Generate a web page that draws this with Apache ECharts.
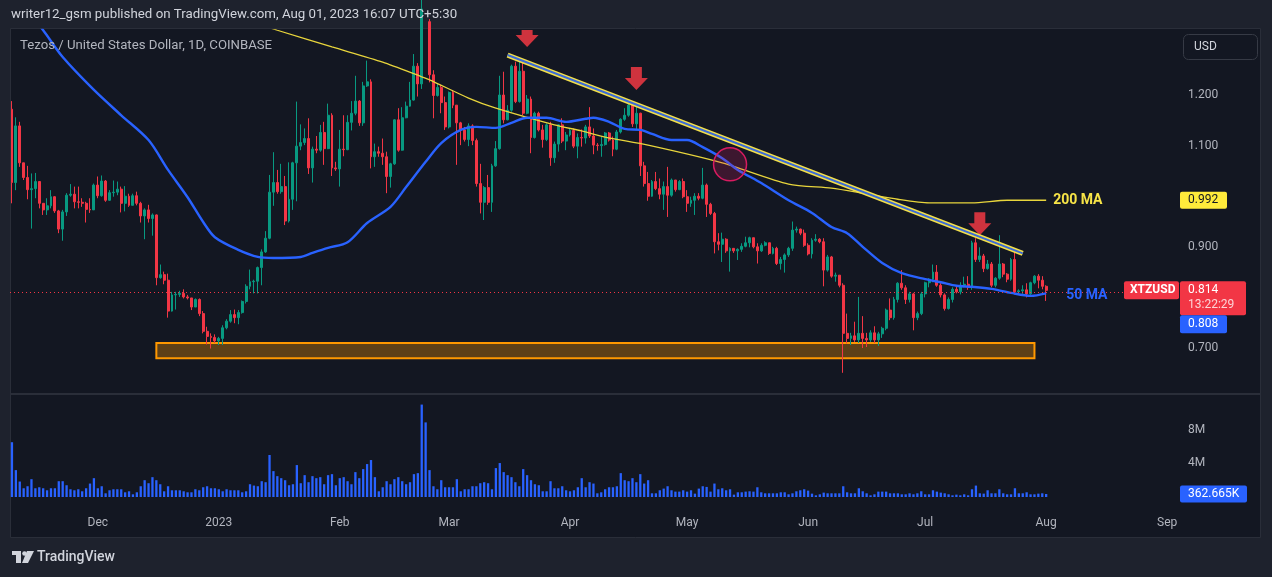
<!DOCTYPE html>
<html><head><meta charset="utf-8">
<script src="https://cdn.jsdelivr.net/npm/echarts@6/dist/echarts.min.js"></script>
<style>html,body{margin:0;padding:0;background:#1e222d;}#c{width:1272px;height:577px;}</style>
</head><body><div id="c"></div>
<script>
// ---- data ----
const startDate = '2022-11-09';
const dayCount = 298; // visible span incl. empty right margin up to early Sep
const monthTicks = {'2022-12-01':'Dec','2023-01-01':'2023','2023-02-01':'Feb','2023-03-01':'Mar','2023-04-01':'Apr','2023-05-01':'May','2023-06-01':'Jun','2023-07-01':'Jul','2023-08-01':'Aug','2023-09-01':'Sep'};
const priceTicks = [0.7, 0.9, 1.1, 1.2];
const volumeTicks = [4e6, 8e6];
const firstOpen = 1.172;
const closes = [
1.027,1.139,1.066,1.037,1.013,1.015,1.029,0.986,0.973,0.981,
0.999,0.971,0.935,0.969,1.002,1.004,0.989,0.988,0.986,0.974,
0.973,1.022,1.001,1.030,0.992,1.007,1.008,1.014,0.986,1.000,
0.982,1.001,0.986,0.961,0.973,0.956,0.963,0.839,0.845,0.834,
0.773,0.805,0.806,0.808,0.801,0.799,0.781,0.796,0.768,0.733,
0.723,0.721,0.714,0.719,0.740,0.753,0.766,0.760,0.770,0.792,
0.822,0.831,0.832,0.859,0.890,0.917,1.008,1.027,1.009,1.019,
0.951,0.994,1.066,1.099,1.106,1.114,1.056,1.093,1.091,1.126,
1.094,1.160,1.056,1.054,1.093,1.092,1.146,1.164,1.188,1.145,
1.218,1.226,1.078,1.088,1.085,1.078,1.039,1.064,1.151,1.091,
1.155,1.178,1.190,1.257,1.222,1.370,1.345,1.240,1.199,1.215,
1.185,1.137,1.205,1.180,1.145,1.131,1.112,1.139,1.110,1.025,
0.988,1.017,0.988,1.060,1.094,1.200,1.151,1.170,1.257,1.187,
1.247,1.164,1.192,1.116,1.164,1.131,1.112,1.141,1.076,1.103,
1.141,1.109,1.121,1.130,1.099,1.116,1.115,1.137,1.119,1.101,
1.100,1.102,1.125,1.111,1.093,1.127,1.152,1.160,1.180,1.143,
1.164,1.060,1.025,1.000,1.029,1.015,1.004,1.019,1.002,1.032,
1.013,1.029,0.999,0.986,0.992,1.000,0.996,1.022,0.984,0.966,
0.910,0.905,0.915,0.892,0.897,0.892,0.895,0.901,0.908,0.918,
0.900,0.892,0.903,0.908,0.887,0.897,0.867,0.875,0.884,0.897,
0.933,0.935,0.927,0.903,0.886,0.913,0.915,0.910,0.854,0.880,
0.842,0.844,0.824,0.729,0.719,0.724,0.716,0.729,0.719,0.716,
0.730,0.716,0.728,0.739,0.775,0.760,0.796,0.828,0.819,0.796,
0.807,0.760,0.768,0.807,0.829,0.836,0.850,0.824,0.805,0.778,
0.796,0.816,0.811,0.824,0.826,0.820,0.908,0.875,0.882,0.857,
0.866,0.824,0.838,0.866,0.846,0.836,0.875,0.811,0.813,0.815,
0.807,0.829,0.842,0.834,0.822,0.814];
const highs = [
1.188,1.156,1.147,1.061,1.060,1.045,1.046,1.025,0.983,0.996,
1.012,1.000,0.973,0.973,1.006,1.024,1.019,1.019,0.996,0.989,
0.996,1.025,1.039,1.041,1.032,1.012,1.031,1.029,1.019,1.020,
1.005,1.005,1.009,0.989,0.976,0.983,0.966,0.964,0.865,0.851,
0.847,0.811,0.811,0.813,0.816,0.805,0.799,0.798,0.798,0.773,
0.742,0.729,0.727,0.722,0.745,0.757,0.775,0.776,0.775,0.794,
0.826,0.855,0.835,0.861,0.895,0.931,1.042,1.087,1.052,1.064,
1.040,1.067,1.068,1.187,1.142,1.134,1.154,1.098,1.119,1.141,
1.147,1.183,1.164,1.068,1.131,1.160,1.160,1.188,1.238,1.190,
1.226,1.268,1.231,1.104,1.098,1.114,1.088,1.066,1.152,1.174,
1.176,1.187,1.226,1.281,1.263,1.400,1.420,1.350,1.249,1.223,
1.220,1.197,1.207,1.210,1.180,1.147,1.137,1.144,1.142,1.114,
1.064,1.020,1.042,1.064,1.109,1.238,1.246,1.180,1.260,1.266,
1.269,1.270,1.200,1.197,1.167,1.167,1.141,1.144,1.147,1.108,
1.142,1.154,1.127,1.134,1.134,1.124,1.132,1.141,1.176,1.134,
1.105,1.118,1.127,1.127,1.118,1.131,1.154,1.174,1.190,1.187,
1.178,1.165,1.068,1.048,1.032,1.048,1.035,1.029,1.058,1.035,
1.032,1.032,1.035,1.012,0.999,1.006,1.006,1.056,1.025,0.987,
0.969,0.927,0.928,0.917,0.899,0.897,0.897,0.907,0.920,0.920,
0.917,0.907,0.907,0.911,0.907,0.900,0.900,0.880,0.887,0.900,
0.950,0.940,0.936,0.934,0.907,0.917,0.925,0.917,0.917,0.884,
0.882,0.849,0.844,0.828,0.768,0.730,0.752,0.801,0.763,0.730,
0.735,0.743,0.732,0.742,0.778,0.798,0.801,0.830,0.854,0.824,
0.811,0.809,0.772,0.811,0.831,0.838,0.865,0.864,0.828,0.808,
0.800,0.820,0.824,0.830,0.841,0.842,0.912,0.917,0.899,0.886,
0.874,0.870,0.840,0.923,0.868,0.848,0.878,0.894,0.816,0.824,
0.828,0.831,0.844,0.846,0.842,0.824];
const lows = [
0.986,1.012,1.058,1.032,0.994,0.936,0.996,0.976,0.963,0.963,
0.976,0.967,0.927,0.912,0.961,0.999,0.976,0.976,0.979,0.948,
0.967,0.973,0.996,0.999,0.989,0.991,0.999,1.002,0.968,0.970,
0.979,0.982,0.982,0.948,0.915,0.948,0.922,0.824,0.837,0.826,
0.760,0.772,0.776,0.801,0.798,0.796,0.775,0.781,0.763,0.729,
0.707,0.699,0.710,0.706,0.706,0.737,0.750,0.749,0.747,0.768,
0.788,0.816,0.808,0.808,0.824,0.888,0.915,0.981,1.005,1.005,
0.943,0.948,0.973,0.990,1.091,1.101,1.044,1.027,1.085,1.088,
1.062,1.093,1.040,1.050,1.019,1.079,1.091,1.130,1.160,1.139,
1.139,1.216,1.055,1.058,1.078,1.062,1.006,1.017,1.062,1.088,
1.090,1.154,1.177,1.189,1.197,1.212,1.340,1.225,1.154,1.197,
1.164,1.131,1.134,1.174,1.062,1.101,1.108,1.099,1.101,1.019,
0.966,0.953,0.983,0.969,1.058,1.092,1.144,1.150,1.167,1.184,
1.185,1.160,1.162,1.085,1.114,1.128,1.096,1.109,1.060,1.066,
1.088,1.105,1.091,1.118,1.095,1.075,1.098,1.104,1.115,1.083,
1.090,1.078,1.100,1.108,1.079,1.091,1.124,1.149,1.157,1.137,
1.132,1.040,1.019,0.991,0.999,1.012,0.994,0.973,0.959,0.999,
1.009,1.012,0.996,0.969,0.979,0.963,0.992,0.994,0.959,0.963,
0.887,0.893,0.870,0.888,0.851,0.888,0.874,0.890,0.899,0.899,
0.897,0.867,0.890,0.901,0.884,0.885,0.864,0.855,0.849,0.880,
0.892,0.928,0.923,0.900,0.883,0.877,0.910,0.907,0.822,0.851,
0.839,0.831,0.820,0.651,0.709,0.706,0.712,0.710,0.700,0.702,
0.712,0.710,0.704,0.720,0.735,0.755,0.756,0.790,0.815,0.787,
0.790,0.735,0.755,0.765,0.800,0.820,0.830,0.821,0.800,0.774,
0.776,0.790,0.808,0.806,0.820,0.815,0.815,0.870,0.870,0.850,
0.855,0.820,0.820,0.835,0.840,0.830,0.833,0.806,0.808,0.807,
0.800,0.805,0.826,0.818,0.816,0.793];
// daily volume, millions
const volumesM = [
6.52,3.2,1.84,1.04,1.28,2.12,1.04,1.16,1.04,0.8,
1.04,1.04,1.88,1.88,1.4,0.92,0.8,0.92,0.68,1.04,
1.6,2.24,1.04,1.28,0.44,0.8,0.92,0.92,0.92,0.56,
0.68,0.32,0.56,1.28,2.0,1.64,2.36,2.0,1.52,0.68,
1.28,0.8,0.8,0.8,0.68,0.56,0.56,0.92,0.8,1.16,
1.28,1.04,1.04,0.92,0.68,0.92,0.8,0.8,0.8,0.56,
0.68,1.52,1.36,1.28,1.88,1.76,5.0,3.08,2.48,2.24,
2.0,1.4,1.52,3.8,1.64,2.6,1.76,2.48,2.24,2.36,
1.52,2.6,2.72,1.4,2.24,2.36,1.88,1.52,2.96,2.24,
3.32,3.92,4.4,2.36,0.68,1.16,1.88,1.52,2.12,2.36,
1.88,1.52,1.76,2.72,2.84,11.0,8.88,3.2,1.28,0.92,
2.0,1.16,1.16,1.16,2.12,0.68,0.92,0.92,1.28,1.28,
1.64,1.76,1.64,0.92,3.44,4.04,2.96,2.6,2.36,1.76,
1.28,3.32,2.6,2.0,1.52,1.4,0.68,0.68,1.88,1.04,
1.04,1.28,0.8,0.68,0.8,1.16,2.24,1.16,1.76,1.6,
0.44,0.56,0.92,1.16,1.16,1.28,2.84,2.0,1.88,2.24,
1.76,2.72,1.6,2.0,0.44,0.44,0.8,1.0,1.28,0.8,
0.64,0.64,0.8,0.64,0.8,0.4,1.0,1.28,1.2,0.64,
1.6,0.92,1.04,0.8,0.92,0.28,0.56,0.56,0.64,0.68,
0.64,1.16,0.56,0.44,0.44,0.44,0.44,0.56,0.56,0.32,
0.44,0.68,0.8,0.92,0.76,0.4,0.2,0.32,0.52,0.44,
0.44,0.44,0.44,1.28,0.56,0.44,0.44,1.04,0.68,0.44,
0.2,0.32,0.64,0.64,0.64,0.44,0.44,0.44,0.32,0.32,
0.44,0.32,0.44,0.68,0.32,0.32,0.8,0.64,0.52,0.44,
0.32,0.2,0.28,0.2,0.32,0.2,0.92,1.36,0.44,0.4,
0.8,0.44,0.44,0.92,0.44,0.32,0.32,1.04,0.44,0.44,
0.56,0.32,0.32,0.4,0.44,0.36];
// moving averages: [day index, value]
const ma50 = [[0,1.405],[8,1.328],[13,1.275],[21,1.21],[28,1.16],[35,1.111],[40,1.052],[45,0.998],[49,0.949],[52,0.919],[58,0.894],[63,0.88],[67,0.878],[74,0.88],[77,0.888],[81,0.898],[86,0.909],[91,0.947],[97,0.979],[101,1.018],[106,1.068],[110,1.105],[115,1.131],[119,1.137],[124,1.135],[128,1.145],[132,1.155],[137,1.155],[142,1.147],[147,1.153],[149,1.155],[153,1.147],[157,1.133],[161,1.131],[164,1.123],[169,1.111],[173,1.111],[177,1.097],[182,1.075],[186,1.052],[192,1.026],[199,0.992],[205,0.967],[210,0.939],[214,0.927],[218,0.9],[223,0.868],[228,0.848],[234,0.836],[238,0.83],[242,0.823],[246,0.821],[251,0.817],[256,0.809],[261,0.803],[265,0.808]];
const ma200 = [[62,1.343],[68,1.328],[82,1.295],[95,1.265],[105,1.236],[107,1.230],[117,1.194],[124,1.174],[139,1.141],[146,1.129],[152,1.117],[163,1.101],[182,1.066],[199,1.024],[210,1.016],[218,1.006],[227,0.994],[235,0.987],[246,0.987],[255,0.992],[265,0.992]];
const trendLine = [[127,1.279],[259,0.887]];
const supportZone = {from:37, to:262, top:0.710, bottom:0.680};
const arrowPoints = [[160,1.210],[248,0.923]];
const arrowTopCut = [132,1.295];
const circlePoint = [184,1.063];
const lastPrice = 0.814, lastMa50 = 0.808, lastMa200 = 0.992, lastVolume = 362665, countdown = '13:22:29';

// ---- build ----
const categories = [];
const t0 = Date.parse(startDate + 'T00:00:00Z');
for (let i = 0; i < dayCount; i++) categories.push(new Date(t0 + i * 86400000).toISOString().slice(0, 10));
const candleData = closes.map((c, i) => {
  const o = i === 0 ? firstOpen : closes[i - 1];
  return [o, c, Math.min(lows[i], o, c), Math.max(highs[i], o, c)];
});
const volData = volumesM.map(v => v * 1e6);

const FONT = 'Roboto, "Noto Sans", sans-serif';
const UP = '#089981', DOWN = '#f23645';
const ARROW = 'path://M6,0L17,0L17,11L23,11L11.5,23L0,11L6,11Z';
const ARROW_CUT = 'path://M6,0L17,0L17,5L23,5L11.5,17L0,5L6,5Z';

const chart = echarts.init(document.getElementById('c'), null, {renderer: 'canvas'});
const option = {
  animation: false,
  backgroundColor: '#1e222d',
  grid: [
    {left: 10, right: 99, top: 30, height: 363, outerBoundsMode: 'none'},
    {left: 10, right: 99, top: 395, height: 102, outerBoundsMode: 'none'}
  ],
  xAxis: [
    {type: 'category', gridIndex: 0, data: categories, boundaryGap: true, axisLine: {show: false}, axisTick: {show: false}, axisLabel: {show: false}, splitLine: {show: false}},
    {type: 'category', gridIndex: 1, data: categories, boundaryGap: true, axisLine: {show: false}, axisTick: {show: false}, splitLine: {show: false},
     axisLabel: {show: true, interval: (i, v) => !!monthTicks[v], formatter: v => monthTicks[v] || '', color: '#b2b5be', fontSize: 12, fontFamily: FONT, margin: 20}}
  ],
  yAxis: [
    {type: 'value', gridIndex: 0, position: 'right', min: 0.6111, max: 1.3285, splitLine: {show: false}, axisLine: {show: false}, axisTick: {show: false},
     axisLabel: {customValues: priceTicks, formatter: v => v.toFixed(3), color: '#b2b5be', fontSize: 12, fontFamily: FONT, margin: 15, align: 'left'}},
    {type: 'value', gridIndex: 1, position: 'right', min: 0, max: 12.14e6, splitLine: {show: false}, axisLine: {show: false}, axisTick: {show: false},
     axisLabel: {customValues: volumeTicks, formatter: v => (v / 1e6) + 'M', color: '#b2b5be', fontSize: 12, fontFamily: FONT, margin: 15, align: 'left'}}
  ],
  series: [
    {type: 'bar', xAxisIndex: 1, yAxisIndex: 1, data: volData, barWidth: 2.3, itemStyle: {color: '#2962ff'}, silent: true},
    {type: 'candlestick', xAxisIndex: 0, yAxisIndex: 0, data: candleData, barWidth: 2.4, clip: true, silent: true,
     itemStyle: {color: UP, color0: DOWN, borderColor: UP, borderColor0: DOWN, borderWidth: 1}},
    {type: 'line', xAxisIndex: 0, yAxisIndex: 0, data: ma200, showSymbol: false, smooth: 0.25, clip: true, silent: true, z: 3,
     lineStyle: {color: '#e8d53c', width: 1.3}},
    {type: 'line', xAxisIndex: 0, yAxisIndex: 0, data: ma50, showSymbol: false, smooth: 0.3, clip: true, silent: true, z: 4,
     lineStyle: {color: '#2962ff', width: 2.4}},
    {type: 'line', xAxisIndex: 0, yAxisIndex: 0, data: trendLine, showSymbol: false, silent: true, z: 5,
     lineStyle: {color: '#f2df4a', width: 5}},
    {type: 'line', xAxisIndex: 0, yAxisIndex: 0, data: trendLine, showSymbol: false, silent: true, z: 6,
     lineStyle: {color: '#3a6ad6', width: 2},
     markLine: {silent: true, symbol: 'none', label: {show: false}, animation: false,
       lineStyle: {color: '#f23645', type: [1, 3], width: 1}, data: [{yAxis: lastPrice}]},
     markArea: {silent: true, itemStyle: {color: 'rgba(255,152,0,0.32)', borderColor: '#ff9800', borderWidth: 2},
       data: [[{coord: [supportZone.from, supportZone.top]}, {coord: [supportZone.to, supportZone.bottom]}]]},
     markPoint: {silent: true, label: {show: false}, data: [
       {coord: circlePoint, symbol: 'circle', symbolSize: 33, itemStyle: {color: 'rgba(216,27,96,0.22)', borderColor: '#d81b60', borderWidth: 1.5}},
       {coord: arrowTopCut, symbol: ARROW_CUT, symbolSize: [23, 17], symbolOffset: [0, '-50%'], itemStyle: {color: '#cf333e'}},
       ...arrowPoints.map(p => ({coord: p, symbol: ARROW, symbolSize: [23, 23], symbolOffset: [0, '-50%'], itemStyle: {color: '#cf333e'}}))
     ]}}
  ]
};
chart.setOption(option);

// ---- overlay labels (positions from the chart's own scales) ----
const py = v => chart.convertToPixel({yAxisIndex: 0}, v);
const vy = v => chart.convertToPixel({yAxisIndex: 1}, v);
const px = i => chart.convertToPixel({xAxisIndex: 0}, i);
const AX = 1180;
const txt = (x, y, s, fill, size, weight, extra) => Object.assign({type: 'text', x, y, z: 100, silent: true,
  style: {text: s, fill, fontSize: size, fontFamily: FONT, fontWeight: weight || 'normal', verticalAlign: 'middle', align: 'left'}}, extra || {});
const rect = (x, y, w, h, fill, extra) => Object.assign({type: 'rect', z: 99, silent: true, shape: {x, y, width: w, height: h, r: 2}, style: {fill}}, extra || {});
const yLP = py(lastPrice), y200 = py(lastMa200), yV = vy(lastVolume);
const xEnd = px(265);
const g = [
  {type: 'rect', z: -10, silent: true, shape: {x: 10.5, y: 28.5, width: 1250, height: 509}, style: {fill: '#131722', stroke: '#2a2e39', lineWidth: 1}},
  {type: 'line', z: -9, silent: true, shape: {x1: 11, y1: 394, x2: 1260, y2: 394}, style: {stroke: '#2a2e39', lineWidth: 2}},
  txt(11, 15, 'writer12_gsm published on TradingView.com, Aug 01, 2023 16:07 UTC+5:30', '#d1d4dc', 13.3),
  txt(20, 46, 'Tezos / United States Dollar, 1D, COINBASE', '#b2b5be', 13.2),
  {type: 'rect', z: 99, silent: true, shape: {x: 1183.5, y: 34.5, width: 74, height: 25, r: 5}, style: {fill: '#131722', stroke: '#363a45', lineWidth: 1}},
  txt(1194, 47, 'USD', '#d1d4dc', 12),
  txt(xEnd + 7, y200, '200 MA', '#f7e447', 14, 'bold'),
  txt(xEnd + 20, py(lastMa50) + 2, '50 MA', '#2962ff', 14, 'bold'),
  rect(AX, y200 - 8.5, 47, 17, '#ffeb3b'),
  txt(AX + 8, y200, lastMa200.toFixed(3), '#131722', 12),
  rect(1124, yLP - 9, 55, 18, DOWN),
  txt(1130, yLP, 'XTZUSD', '#ffffff', 12, 'bold'),
  rect(AX, yLP - 9, 66, 34, DOWN),
  txt(AX + 8, yLP, lastPrice.toFixed(3), '#ffffff', 12),
  txt(AX + 8, yLP + 15, countdown, 'rgba(255,255,255,0.78)', 12),
  rect(AX, yLP + 25, 47, 18, '#2962ff'),
  txt(AX + 8, yLP + 34, lastMa50.toFixed(3), '#ffffff', 12),
  rect(AX, yV - 8.5, 67, 17, '#2962ff'),
  txt(AX + 8, yV, (lastVolume / 1000).toFixed(3) + 'K', '#ffffff', 12),
  // footer logo
  {type: 'rect', z: 99, silent: true, shape: {x: 12, y: 551, width: 9, height: 4}, style: {fill: '#d1d4dc'}},
  {type: 'rect', z: 99, silent: true, shape: {x: 16, y: 551, width: 5, height: 12}, style: {fill: '#d1d4dc'}},
  {type: 'circle', z: 99, silent: true, shape: {cx: 24.5, cy: 553.5, r: 2.3}, style: {fill: '#d1d4dc'}},
  {type: 'polygon', z: 99, silent: true, shape: {points: [[27, 551], [34, 551], [28, 563], [22, 563]]}, style: {fill: '#d1d4dc'}},
  txt(37, 557, 'TradingView', '#d1d4dc', 14, 500)
];
chart.setOption({graphic: g});
</script></body></html>
